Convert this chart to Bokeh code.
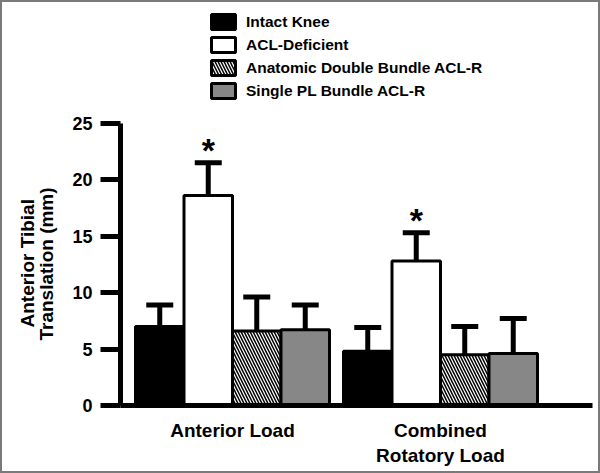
from bokeh.plotting import figure
from bokeh.models import (ColumnDataSource, Range1d, FixedTicker, Whisker, TeeHead,
                          Legend, LegendItem, Title)
from bokeh.core.properties import value
from bokeh.embed import file_html
from bokeh.resources import INLINE

# ---------------- data ----------------
categories = ["Anterior Load", "Combined\nRotatory Load"]
series = ["Intact Knee", "ACL-Deficient", "Anatomic Double Bundle ACL-R", "Single PL Bundle ACL-R"]
intact_mean = [7.0, 4.8]
intact_sd = [1.9, 2.1]
acld_mean = [18.6, 12.8]
acld_sd = [2.9, 2.5]
double_mean = [6.6, 4.5]
double_sd = [3.0, 2.5]
single_mean = [6.7, 4.6]
single_sd = [2.2, 3.1]
significant = ["ACL-Deficient"]
y_ticks = [0, 5, 10, 15, 20, 25]
y_label_lines = ["Anterior Tibial", "Translation (mm)"]

means = [intact_mean, acld_mean, double_mean, single_mean]
sds = [intact_sd, acld_sd, double_sd, single_sd]

# ---------------- layout constants ----------------
FONT = "Liberation Sans"
W, H = 600, 473
LEFT, RIGHT, BOTTOM = 118, 10, 70
px_per_group = 208.0
frame_w = W - LEFT - RIGHT
bar_w = 48.5 / px_per_group
x_start = -112 / px_per_group
x_end = x_start + frame_w / px_per_group
frame_h = H - BOTTOM
y_end = frame_h / 11.29

p = figure(width=W, height=H, output_backend="svg", toolbar_location=None,
           x_range=Range1d(x_start, x_end), y_range=Range1d(0, y_end),
           min_border_left=LEFT, min_border_right=RIGHT, min_border_top=0, min_border_bottom=BOTTOM,
           styles={"border": "2px solid #7a7a7a", "box-sizing": "border-box"})
p.grid.visible = False
p.outline_line_color = None
p.background_fill_color = "white"
p.border_fill_color = "white"

styles = [
    dict(fill_color="black", line_color="black"),
    dict(fill_color="white", line_color="black"),
    dict(fill_color="white", line_color="black", hatch_pattern="\\", hatch_color="black",
         hatch_scale=6, hatch_weight=1.5),
    dict(fill_color="#878787", line_color="black"),
]

items = []
for i, name in enumerate(series):
    xs = [g + (i - 1.5) * bar_w for g in range(len(categories))]
    top = means[i]
    upper = [m + s for m, s in zip(means[i], sds[i])]
    src = ColumnDataSource(dict(x=xs, top=top, upper=upper))
    r = p.vbar(x="x", top="top", width=bar_w, bottom=0, source=src, line_width=3, **styles[i])
    items.append(LegendItem(label=name, renderers=[r]))
    w = Whisker(base="x", lower="top", upper="upper", source=src, line_width=5, line_color="black",
                upper_head=TeeHead(size=27, line_width=5, line_color="black"), lower_head=None)
    p.add_layout(w)
    if name in significant:
        p.text(x="x", y="upper", text=value("*"), source=src, text_align="center",
               text_baseline="bottom", text_font=value(FONT), text_font_style="bold",
               text_font_size="34px", y_offset=6, text_color="black")

legend = Legend(items=items, location=(88, 305), orientation="vertical",
                glyph_width=30, glyph_height=19, spacing=4, label_standoff=8,
                label_height=19, padding=0, margin=0,
                border_line_color=None, background_fill_alpha=0,
                label_text_font=FONT, label_text_font_style="bold",
                label_text_font_size="15.5px", label_text_color="black")
p.add_layout(legend, "center")

# y axis
ya = p.yaxis[0]
ya.bounds = (0, 25)
ya.ticker = FixedTicker(ticks=y_ticks)
ya.axis_line_width = 5
ya.major_tick_line_width = 5
ya.major_tick_out = 20
ya.major_tick_in = 0
ya.minor_tick_out = 0
ya.minor_tick_in = 0
ya.major_label_standoff = 8
ya.major_label_text_font = FONT
ya.major_label_text_font_style = "bold"
ya.major_label_text_font_size = "18px"
ya.major_label_text_color = "black"

# y axis label as two side titles (centred on the 0-25 span)
offsets = [78, 65]
standoffs = [-34, 26]
for line, off, so in reversed(list(zip(y_label_lines, offsets, standoffs))):
    t = Title(text=line, align="left", offset=off, standoff=so, vertical_align="bottom",
              text_font=FONT, text_font_style="bold", text_font_size="19px", text_color="black")
    p.add_layout(t, "left")

# x axis
xa = p.xaxis[0]
xa.ticker = FixedTicker(ticks=list(range(len(categories))))
xa.major_label_overrides = {i: c for i, c in enumerate(categories)}
xa.axis_line_width = 5
xa.major_tick_out = 0
xa.major_tick_in = 0
xa.minor_tick_out = 0
xa.minor_tick_in = 0
xa.major_label_standoff = 14
xa.major_label_text_font = FONT
xa.major_label_text_font_style = "bold"
xa.major_label_text_font_size = "19px"
xa.major_label_text_color = "black"

open("out.html", "w").write(file_html(p, INLINE))
